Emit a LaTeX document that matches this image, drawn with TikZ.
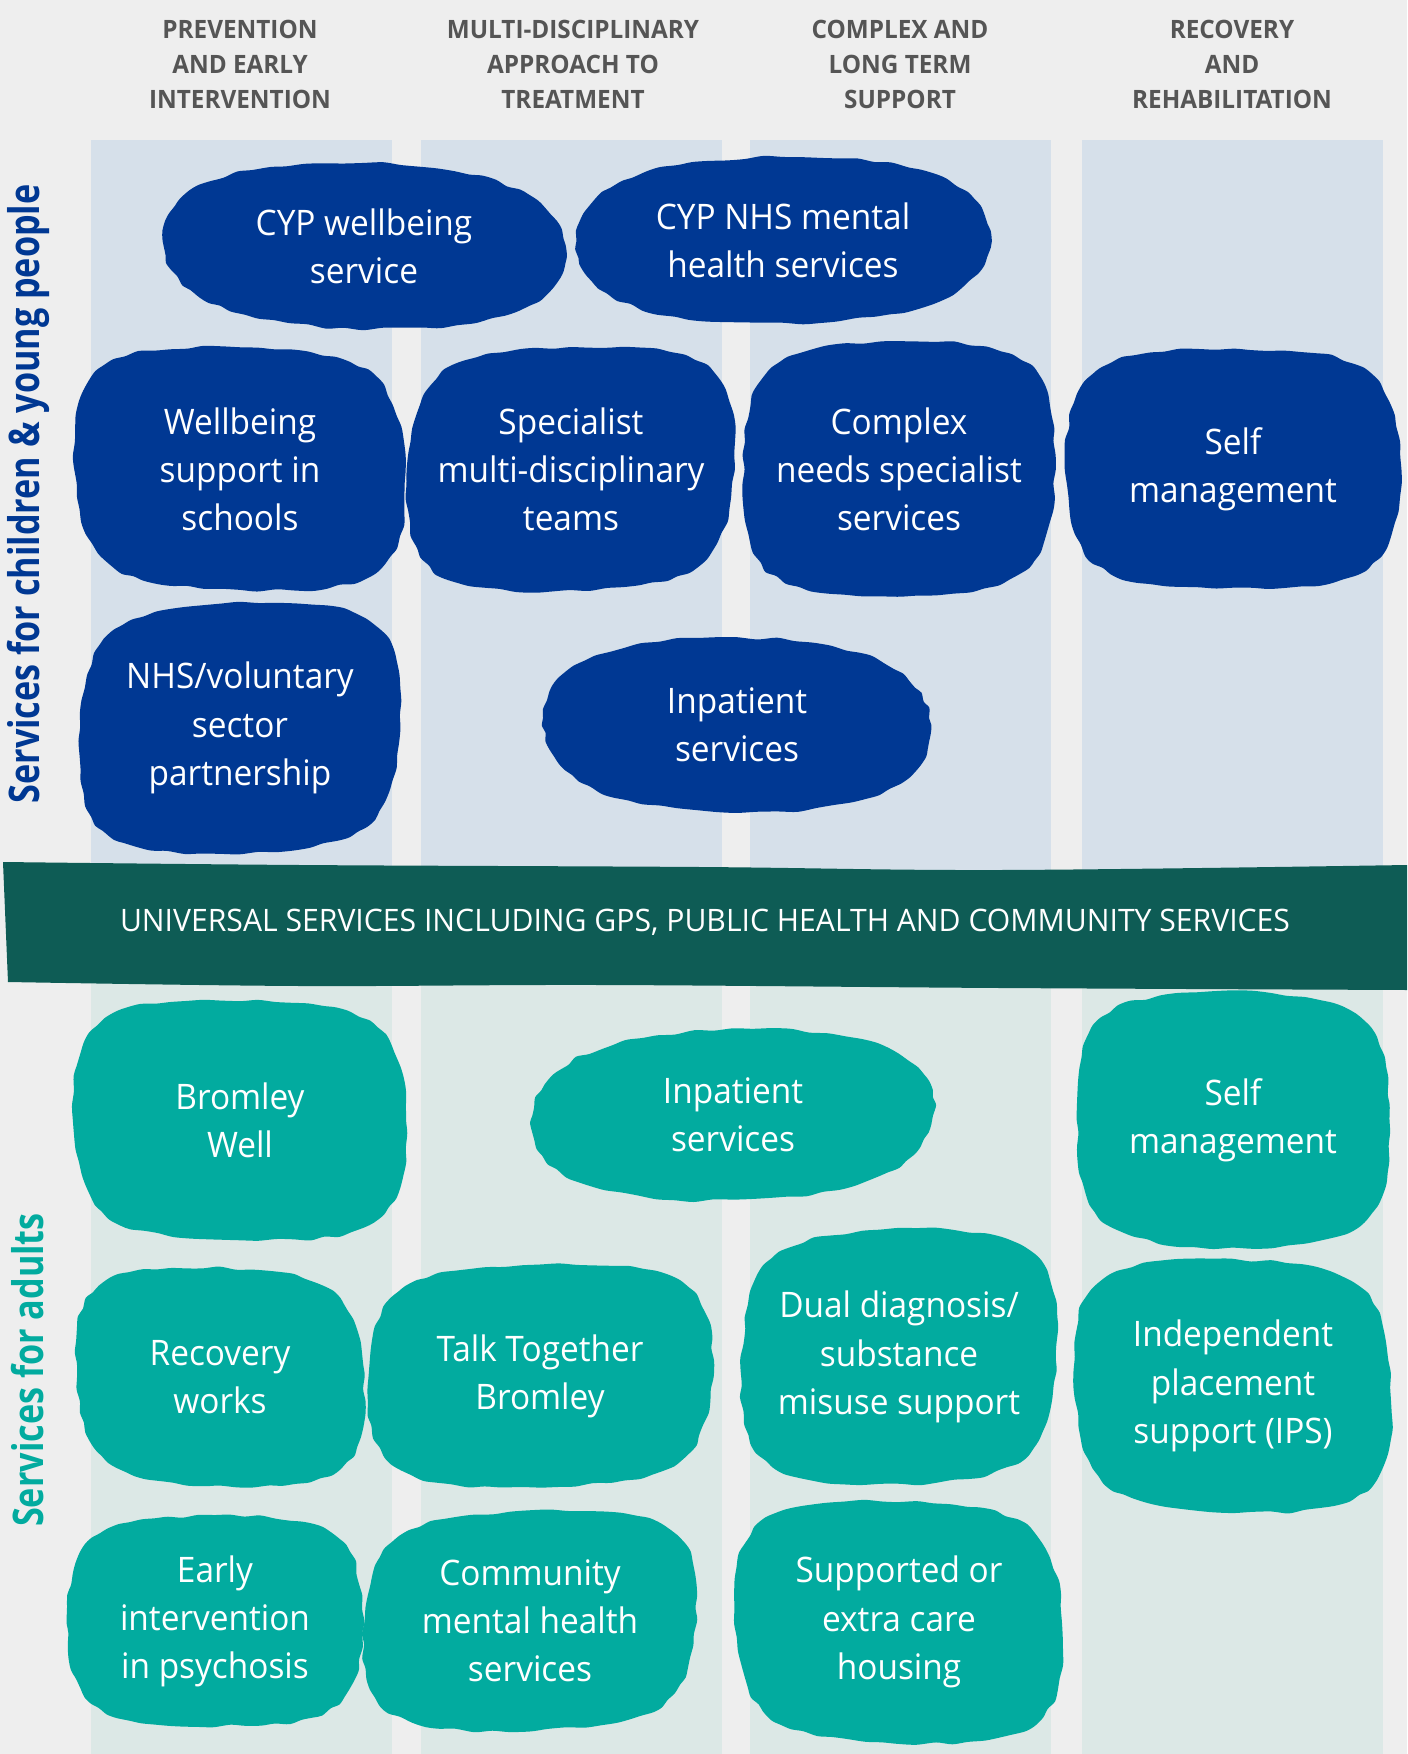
\documentclass[tikz,border=0pt]{standalone}
\usepackage{fontspec}
\setmainfont{Open Sans}[FakeStretch=0.95]
\newfontfamily\headfont{Open Sans}[FakeStretch=0.96]
\newfontfamily\sidefont{Open Sans}[FakeStretch=0.81]
\newfontfamily\bannerfont{Open Sans}[FakeStretch=0.975]

\definecolor{pagebg}{HTML}{EEEEEE}
\definecolor{colcyp}{HTML}{D6E0EA}
\definecolor{coladult}{HTML}{DCE8E6}
\definecolor{cypblue}{HTML}{003893}
\definecolor{adultteal}{HTML}{02AB9F}
\definecolor{bannergreen}{HTML}{0E5C55}
\definecolor{headgrey}{HTML}{555555}

\tikzset{
  blobtext/.style={text=white, align=center, font=\fontsize{10}{13.7}\selectfont},
  colhead/.style={text=headgrey, align=center, font=\headfont\bfseries\fontsize{7.2}{9.96}\selectfont},
  sidelabel/.style={rotate=90, font=\sidefont\bfseries\fontsize{12}{14}\selectfont},
}

% colour, cx, cy, half width, half height, phase, squareness
\newcommand\blob[7]{%
  \fill[#1] plot[smooth cycle, domain=0:355, samples=72, variable=\t]
    ({#2 + 1.5*rand + #4*(1+0.035*sin(2*\t+#6))*(cos(\t)-#7*cos(3*\t))/(1-#7)},
     {#3 + 1.5*rand + #5*(1+0.035*sin(2*\t+#6))*(sin(\t)+#7*sin(3*\t))/(1-#7)});
}

\begin{document}
\begin{tikzpicture}[x=0.1mm, y=-0.1mm]
\pgfmathsetseed{7}
\useasboundingbox (0,0) rectangle (1407,1754);
\fill[pagebg] (0,0) rectangle (1407,1754);

% columns
\foreach \x in {91,421,750,1082}{
  \fill[colcyp] (\x,140) rectangle (\x+301,925);
  \fill[coladult] (\x,925) rectangle (\x+301,1754);
}

% column headings
\node[colhead] (headprev) at (240,64) {PREVENTION\\AND EARLY\\INTERVENTION};
\node[colhead] (headmulti) at (573,64) {MULTI-DISCIPLINARY\\APPROACH TO\\TREATMENT};
\node[colhead] (headcomplex) at (900,64) {COMPLEX AND\\LONG TERM\\SUPPORT};
\node[colhead] (headrecov) at (1232,64) {RECOVERY\\AND\\REHABILITATION};

% side labels
\node[sidelabel, text=cypblue] (sidecyp) at (28,494) {Services for children \& young people};
\node[sidelabel, text=adultteal] (sideadult) at (28,1370) {Services for adults};

% children and young people
\foreach \nm/\x/\y/\a/\b/\ph/\sq/\txt in {
    cypwell/364/246/199/84/20/0.03/{CYP wellbeing\\service},
    cypnhs/783/240/201/86/110/0.03/{CYP NHS mental\\health services},
    wellschool/240/469/162/124/40/0.07/{Wellbeing\\support in\\schools},
    specialist/571/469/161/124/150/0.07/{Specialist\\multi-disciplinary\\teams},
    complexneeds/899/469/161/124/250/0.07/{Complex\\needs specialist\\services},
    selfcyp/1233/469/162/124/80/0.07/{Self\\management},
    nhsvol/240/728/162/124/200/0.07/{NHS/voluntary\\sector\\partnership},
    inpatcyp/737/725/200/85/300/0.03/{Inpatient\\services}}{
  \blob{cypblue}{\x}{\y}{\a}{\b}{\ph}{\sq}
  \node[blobtext] (\nm) at (\x,\y) {\txt};
}

% universal services banner
\fill[bannergreen] plot[smooth, tension=0.6] coordinates {(3,862) (300,865) (700,867) (1000,870) (1407,865)}
  -- plot[smooth, tension=0.6] coordinates {(1407,990) (1000,988) (600,985) (300,986) (8,982)} -- cycle;
\node[text=white, font=\bannerfont\fontsize{8.8}{10}\selectfont] (universal) at (705,922)
  {UNIVERSAL SERVICES INCLUDING GPS, PUBLIC HEALTH AND COMMUNITY SERVICES};

% adults
\foreach \nm/\x/\y/\a/\b/\ph/\sq/\txt in {
    bromleywell/240/1120/162/124/60/0.07/{Bromley\\Well},
    inpatadult/733/1115/200/86/170/0.03/{Inpatient\\services},
    selfadult/1233/1120/162/124/280/0.07/{Self\\management},
    recovery/220/1377/143/110/10/0.07/{Recovery\\works},
    talktogether/540/1376/168/114/130/0.07/{Talk Together\\Bromley},
    dualdiag/899/1357/161/125/220/0.07/{Dual diagnosis/\\substance\\misuse support},
    ips/1233/1386/162/124/320/0.07/{Independent\\placement\\support (IPS)},
    earlyint/215/1621/143/109/90/0.07/{Early\\intervention\\in psychosis},
    cmhs/530/1621/167/109/190/0.07/{Community\\mental health\\services},
    supported/899/1622/161/123/30/0.07/{Supported or\\extra care\\housing}}{
  \blob{adultteal}{\x}{\y}{\a}{\b}{\ph}{\sq}
  \node[blobtext] (\nm) at (\x,\y) {\txt};
}
\end{tikzpicture}
\end{document}
